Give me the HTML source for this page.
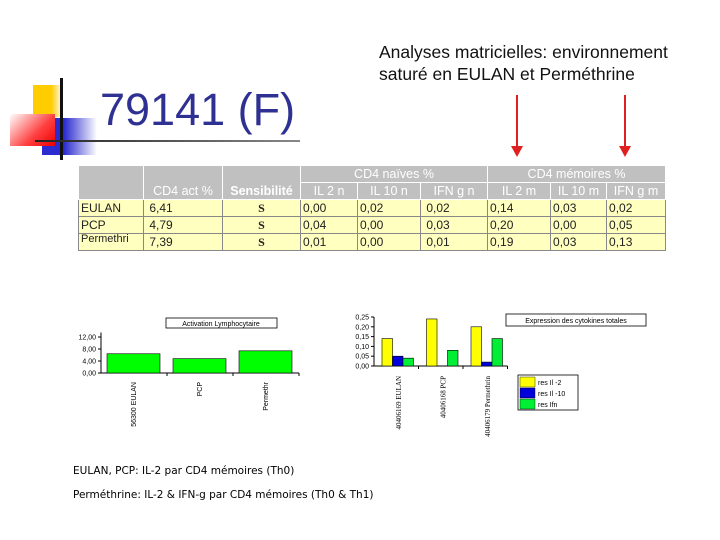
<!DOCTYPE html>
<html><head><meta charset="utf-8"><style>
body{margin:0;width:720px;height:540px;background:#fff;position:relative;overflow:hidden;font-family:"Liberation Sans",sans-serif}
.a{position:absolute}
table{border-collapse:collapse;position:absolute;left:78px;top:165px;font-size:12px;table-layout:fixed;width:587px}
td{border:1px solid #fff;padding:0 2px;height:16px;overflow:hidden;white-space:nowrap;line-height:15px}
.h{background:#c0c0c0;color:#fff;text-align:center;font-size:12.5px}
.d{background:#ffffc0;border:1px solid #888;color:#222}
</style></head><body>
<div class="a" style="left:33px;top:85px;width:30px;height:32px;background:linear-gradient(90deg,#ffcc00 60%,#fff)"></div>
<div class="a" style="left:42px;top:118px;width:55px;height:37px;background:linear-gradient(90deg,#2b2bd0 40%,#fff)"></div>
<div class="a" style="left:10px;top:114px;width:45px;height:32px;background:linear-gradient(135deg,#fff 0%,#ff4040 60%,#ee0000)"></div>
<div class="a" style="left:60px;top:78px;width:3px;height:82px;background:#111"></div>
<div class="a" style="left:35px;top:140px;width:265px;height:2px;background:linear-gradient(90deg,#222,#888)"></div>
<div class="a" style="left:100px;top:84px;font-size:45px;color:#2e3192">79141 (F)</div>
<div class="a" style="left:379px;top:41px;font-size:17.5px;line-height:22px;color:#111">Analyses matricielles: environnement<br>saturé en EULAN et Perméthrine</div>
<svg class="a" style="left:0;top:0" width="720" height="540">
<g><line x1="517" y1="95" x2="517" y2="148" stroke="#e02020" stroke-width="2"/><polygon points="511,146 523,146 517,157" fill="#e02020"/></g>
<g><line x1="625" y1="95" x2="625" y2="148" stroke="#e02020" stroke-width="2"/><polygon points="619,146 631,146 625,157" fill="#e02020"/></g>
</svg>
<table>
<colgroup><col style="width:65px"><col style="width:79px"><col style="width:78px"><col style="width:57px"><col style="width:63px"><col style="width:67px"><col style="width:63px"><col style="width:56px"><col style="width:59px"></colgroup>
<tr><td class="h" rowspan="2"></td><td class="h" rowspan="2" style="vertical-align:bottom">CD4 act %</td><td class="h" rowspan="2" style="vertical-align:bottom;font-weight:bold">Sensibilité</td><td class="h" colspan="3">CD4 naïves %</td><td class="h" colspan="3">CD4 mémoires %</td></tr>
<tr><td class="h">IL 2 n</td><td class="h">IL 10 n</td><td class="h">IFN g n</td><td class="h">IL 2 m</td><td class="h">IL 10 m</td><td class="h">IFN g m</td></tr>
<tr><td class="d">EULAN</td><td class="d">&nbsp;6,41</td><td class="d" style="text-align:center;font-weight:bold;font-family:'Liberation Serif'">S</td><td class="d">0,00</td><td class="d">0,02</td><td class="d">&nbsp;0,02</td><td class="d">0,14</td><td class="d">0,03</td><td class="d">0,02</td></tr>
<tr><td class="d">PCP</td><td class="d">&nbsp;4,79</td><td class="d" style="text-align:center;font-weight:bold;font-family:'Liberation Serif'">S</td><td class="d">0,04</td><td class="d">0,00</td><td class="d">&nbsp;0,03</td><td class="d">0,20</td><td class="d">0,00</td><td class="d">0,05</td></tr>
<tr><td class="d" style="font-size:11px;line-height:10px;vertical-align:top">Permethri</td><td class="d">&nbsp;7,39</td><td class="d" style="text-align:center;font-weight:bold;font-family:'Liberation Serif'">S</td><td class="d">0,01</td><td class="d">0,00</td><td class="d">&nbsp;0,01</td><td class="d">0,19</td><td class="d">0,03</td><td class="d">0,13</td></tr>
</table>
<svg id="c1" class="a" style="left:0;top:0" width="720" height="540" font-family="Liberation Sans" font-size="7"></svg>
<div class="a" style="left:73px;top:465px;font-size:10.5px;font-family:'DejaVu Sans',sans-serif">EULAN, PCP: IL-2 par CD4 mémoires (Th0)</div>
<div class="a" style="left:73px;top:489px;font-size:10.5px;font-family:'DejaVu Sans',sans-serif">Perméthrine: IL-2 &amp; IFN-g par CD4 mémoires (Th0 &amp; Th1)</div>
<script>
const actCats=["56300 EULAN","PCP","Permethr"];
const actVals=[6.41,4.79,7.39];
const actTicks=[0,4,8,12];
const actTickLabels=["0,00","4,00","8,00","12,00"];
const cytCats=["40406169 EULAN","40406168 PCP","40406179 Permethrin"];
const il2=[0.14,0.24,0.20];
const il10=[0.05,0,0.02];
const ifn=[0.04,0.08,0.14];
const cytTicks=[0,0.05,0.1,0.15,0.2,0.25];
const cytTickLabels=["0,00","0,05","0,10","0,15","0,20","0,25"];
const seriesNames=["res Il -2","res Il -10","res Ifn"];
const NS="http://www.w3.org/2000/svg";
const svg=document.getElementById('c1');
function mk(t,a,txt){const e=document.createElementNS(NS,t);for(const k in a)e.setAttribute(k,a[k]);if(txt!=null)e.textContent=txt;svg.appendChild(e);return e;}
const y1=v=>373-v*3, x1=i=>101+i*66;
let e=mk('rect',{x:166,y:318,width:111,height:10,fill:'#fff',stroke:'#000','stroke-width':0.8});


e=mk('text',{x:221,y:326,'text-anchor':'middle'},'Activation Lymphocytaire');


mk('line',{x1:101,y1:y1(13.5),x2:101,y2:y1(0),stroke:'#000'});
mk('line',{x1:101,y1:y1(0),x2:x1(3),y2:y1(0),stroke:'#000'});
actTicks.forEach((t,i)=>{mk('line',{x1:98,y1:y1(t),x2:101,y2:y1(t),stroke:'#000'});
e=mk('text',{x:96,y:y1(t)+2.5,'text-anchor':'end'},actTickLabels[i]);

});
actVals.forEach((v,i)=>{const bx=x1(i)+6;
e=mk('rect',{x:bx,y:y1(v),width:53,height:v*3,fill:'#00ff00',stroke:'#000','stroke-width':0.6});


mk('line',{x1:x1(i+1),y1:y1(0),x2:x1(i+1),y2:y1(0)+3,stroke:'#000'});
e=mk('text',{x:0,y:0,'text-anchor':'end',transform:`translate(${x1(i)+35},382) rotate(-90)`},actCats[i]);

});
const y2=v=>366-v*196, x2=i=>374+i*44.5, cols=['#ffff00','#0000dd','#00ee33'];
e=mk('rect',{x:506,y:314,width:140,height:12,fill:'#fff',stroke:'#000','stroke-width':0.8});


e=mk('text',{x:576,y:323,'text-anchor':'middle'},'Expression des cytokines totales');


mk('line',{x1:374,y1:y2(0.25),x2:374,y2:y2(0),stroke:'#000'});
mk('line',{x1:374,y1:y2(0),x2:x2(3),y2:y2(0),stroke:'#000'});
cytTicks.forEach((t,i)=>{mk('line',{x1:371,y1:y2(t),x2:374,y2:y2(t),stroke:'#000'});
e=mk('text',{x:369,y:y2(t)+2.5,'text-anchor':'end'},cytTickLabels[i]);

});
[il2,il10,ifn].forEach((s,k)=>s.forEach((v,i)=>{if(v<=0)return;
e=mk('rect',{x:x2(i)+8+k*10.5,y:y2(v),width:10.5,height:v*196,fill:cols[k],stroke:'#000','stroke-width':0.6});

}));
cytCats.forEach((c,i)=>{mk('line',{x1:x2(i+1),y1:y2(0),x2:x2(i+1),y2:y2(0)+3,stroke:'#000'});
e=mk('text',{x:0,y:0,'text-anchor':'end',transform:`translate(${x2(i)+27},376) rotate(-90)`,'font-family':'Liberation Serif'},c);

});
e=mk('rect',{x:518,y:375,width:60,height:35,fill:'#fff',stroke:'#000','stroke-width':0.8});


seriesNames.forEach((n,k)=>{mk('rect',{x:520,y:377+k*11,width:15,height:10,fill:cols[k],stroke:'#000','stroke-width':0.4});
e=mk('text',{x:538,y:385+k*11},n);

});
</script>
</body></html>
